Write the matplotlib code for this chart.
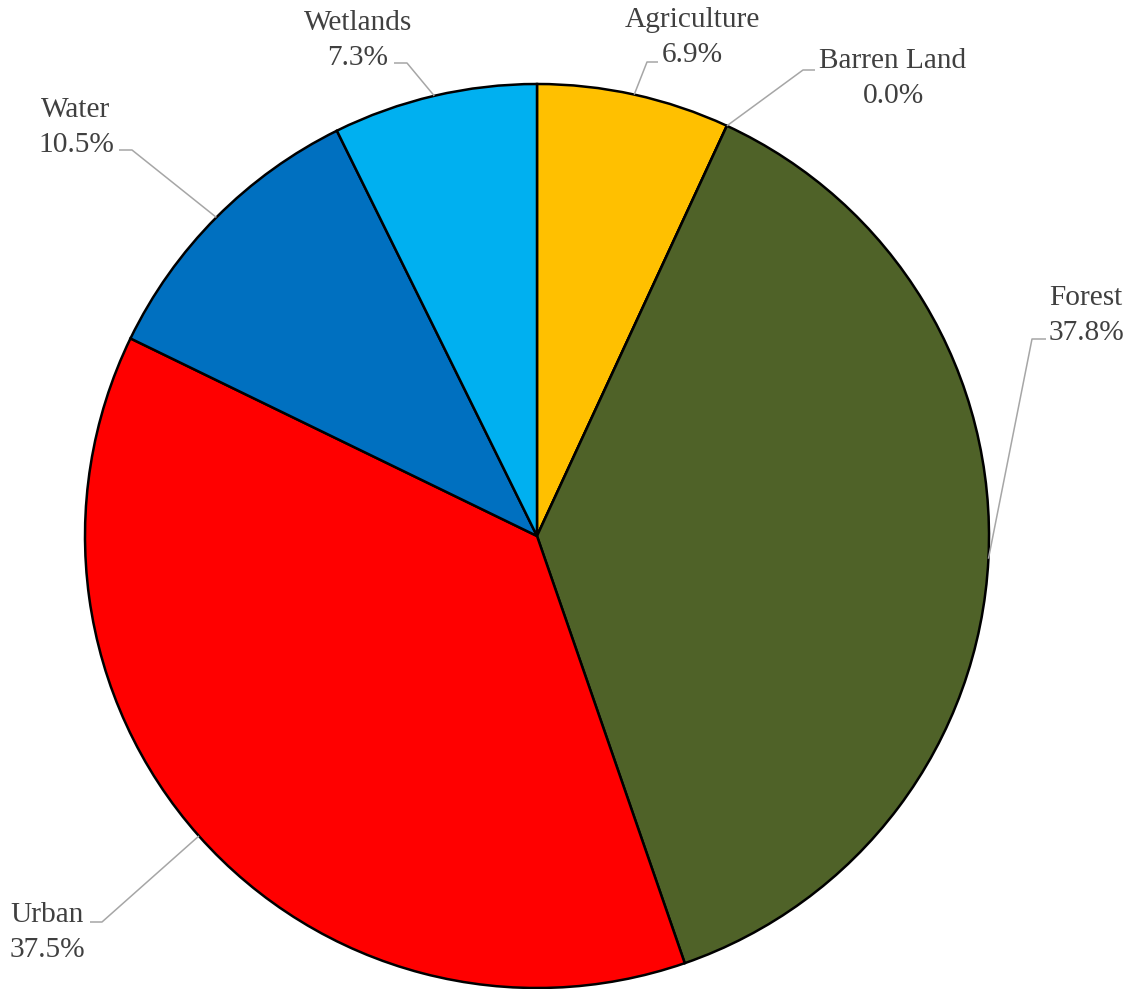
import matplotlib
matplotlib.use("Agg")
import matplotlib.pyplot as plt
import numpy as np

# ---- data ----
categories = ["Agriculture", "Barren Land", "Forest", "Urban", "Water", "Wetlands"]
values = [6.9, 0.0, 37.8, 37.5, 10.5, 7.3]
colors = ["#FFC000", "#4F6228", "#4F6228", "#FF0000", "#0070C0", "#00B0F0"]

# ---- layout (pixel coordinates, origin top-left) ----
W, H = 1136, 989
CX, CY, R = 537, 536, 452
# elbow point, end of horizontal segment, text centre x, last-line baseline y
label_layout = {
    "Agriculture": ((647, 62), (658, 62), 692, 62),
    "Barren Land": ((803, 70), (815, 70), 893, 103),
    "Forest": ((1032, 339), (1046, 339), 1086, 340),
    "Urban": ((102, 922), (90, 922), 47, 957),
    "Water": ((132, 150), (119, 150), 76, 152),
    "Wetlands": ((407, 63), (394, 63), 358, 65),
}

plt.rcParams["font.family"] = ["Liberation Serif", "DejaVu Serif"]

fig = plt.figure(figsize=(W / 100, H / 100), dpi=100)
ax = fig.add_axes([0, 0, 1, 1])

wedges, _ = ax.pie(values, colors=colors, startangle=90, counterclock=False,
                   center=(CX, H - CY), radius=R,
                   wedgeprops=dict(edgecolor="black", linewidth=1.8),
                   frame=True)
ax.set_xlim(0, W)
ax.set_ylim(0, H)
ax.set_aspect("equal")
ax.axis("off")

for w, cat, v in zip(wedges, categories, values):
    mid = np.deg2rad((w.theta1 + w.theta2) / 2)
    ax_pt = (CX + R * np.cos(mid), H - CY + R * np.sin(mid))
    elbow, end, tx, ty = label_layout[cat]
    xs = [ax_pt[0], elbow[0], end[0]]
    ys = [ax_pt[1], H - elbow[1], H - end[1]]
    ax.plot(xs, ys, color="#A6A6A6", linewidth=1.1, solid_capstyle="butt",
            clip_on=False, zorder=3)
    ax.text(tx, H - ty, f"{cat}\n{v:.1f}%", ha="center", va="baseline",
            multialignment="center", fontsize=21.2, color="#404040",
            linespacing=1.47, zorder=4)

fig.savefig("out.png", dpi=100)
